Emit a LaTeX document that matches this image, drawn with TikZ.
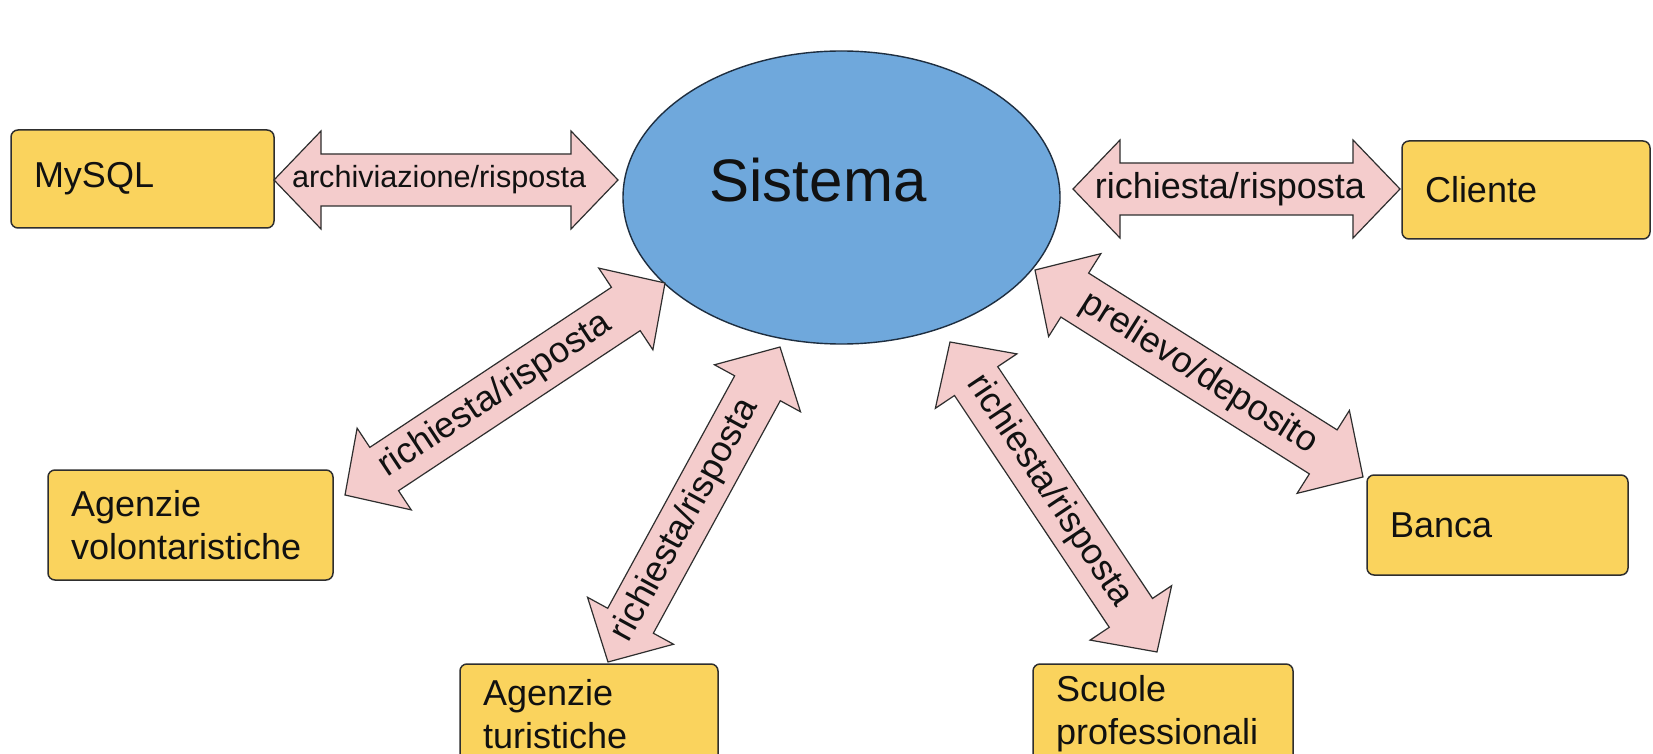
\documentclass[tikz,border=0pt]{standalone}
\usepackage{fontspec}
\setmainfont{Liberation Sans}
\usetikzlibrary{calc,shapes.geometric}
\definecolor{boxyellow}{HTML}{FAD35D}
\definecolor{sysblue}{HTML}{6FA8DC}
\definecolor{sysedge}{HTML}{1E2E40}
\definecolor{arrowpink}{HTML}{F4CCCC}
\definecolor{edgegray}{HTML}{2E2E2E}
\definecolor{ink}{HTML}{111111}
% #1 start, #2 end, #3 label node name, #4 label, #5 label position, #6 extra label style
\newcommand\blockarrow[6]{%
  \draw[blockarrowstyle] let \p1=(#1), \p2=(#2),
      \n1={atan2(\y2-\y1,\x2-\x1)}, \n2={veclen(\x2-\x1,\y2-\y1)} in
    {[shift={(\p1)}, rotate=\n1]
      (0pt,0pt) -- (23.5pt,24.5pt) -- (23.5pt,13pt) -- ({\n2-23.5pt},13pt) -- ({\n2-23.5pt},24.5pt)
      -- ({\n2+0pt},0pt) -- ({\n2-23.5pt},-24.5pt) -- ({\n2-23.5pt},-13pt) -- (23.5pt,-13pt)
      -- (23.5pt,-24.5pt) -- cycle}
    node[arrowlabel, #6, rotate=\n1] (#3) at ($(#1)!#5!(#2)$) {#4};
}
\begin{document}
\begin{tikzpicture}[x=0.5pt,y=-0.5pt,
  boxnode/.style={draw=edgegray, fill=boxyellow, rounded corners=3.5pt, line width=0.75pt,
    font=\fontsize{18}{21.5}\selectfont, text=ink, align=left, inner xsep=11.5pt, inner ysep=0pt},
  blockarrowstyle/.style={draw=edgegray, fill=arrowpink, line width=0.6pt, line join=miter},
  arrowlabel/.style={font=\fontsize{18}{21}\selectfont, text=ink, inner sep=0pt},
  smalllabel/.style={font=\fontsize{15.3}{18}\selectfont},
  sysnode/.style={ellipse, draw=sysedge, fill=sysblue, line width=0.7pt,
    minimum width=218.5pt, minimum height=146.5pt, inner sep=0pt},
  systext/.style={font=\fontsize{30}{36}\selectfont, text=ink, inner sep=0pt}]
\useasboundingbox (0,0) rectangle (1653,754);
\clip (0,0) rectangle (1653,754);
\fill[white] (0,0) rectangle (1653,754);

% central system
\node[sysnode] (sys) at (841.5,197.5) {};
\node[systext, anchor=base] (systitle) at (818,202) {Sistema};

% boxes
\node[boxnode, text width=108.5pt, minimum height=49pt] (mysql) at (142.5,179) {MySQL};
\node[boxnode, text width=101pt, minimum height=49pt] (cliente) at (1526,190) {Cliente};
\node[boxnode, text width=119.5pt, minimum height=55pt] (volont) at (190.5,525) {Agenzie\\volontaristiche};
\node[boxnode, text width=107.5pt, minimum height=50pt] (banca) at (1497.5,525) {Banca};
\node[boxnode, text width=106pt, minimum height=50pt] (turist) at (589,714) {Agenzie\\turistiche};
\node[boxnode, text width=107pt, minimum height=50pt] (scuole) at (1163,714) {Scuole\\professionali};

% arrow end points
\coordinate (mysqlA) at (274,180);
\coordinate (mysqlB) at (618,180);
\coordinate (clienteA) at (1073,189);
\coordinate (clienteB) at (1400,189);
\coordinate (volontA) at (345,495);
\coordinate (volontB) at (665,283);
\coordinate (turistA) at (608,662);
\coordinate (turistB) at (780,347);
\coordinate (scuoleA) at (950,342);
\coordinate (scuoleB) at (1157,652);
\coordinate (bancaA) at (1035,270);
\coordinate (bancaB) at (1363,477);

% block arrows
\blockarrow{mysqlA}{mysqlB}{lmysql}{archiviazione/risposta}{0.48}{smalllabel}
\blockarrow{clienteA}{clienteB}{lcliente}{richiesta/risposta}{0.48}{}
\blockarrow{volontA}{volontB}{lvolont}{richiesta/risposta}{0.47}{}
\blockarrow{turistA}{turistB}{lturist}{richiesta/risposta}{0.45}{}
\blockarrow{scuoleA}{scuoleB}{lscuole}{richiesta/risposta}{0.48}{}
\blockarrow{bancaA}{bancaB}{lbanca}{prelievo/deposito}{0.5}{}
\end{tikzpicture}
\end{document}
